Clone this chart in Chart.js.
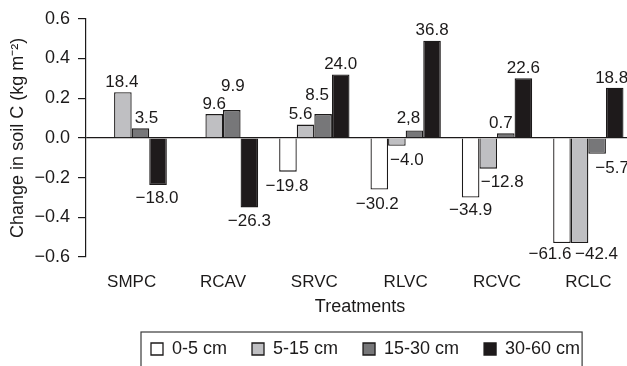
<!DOCTYPE html>
<html>
<head>
<meta charset="utf-8">
<script src="https://cdn.jsdelivr.net/npm/chart.js@4/dist/chart.umd.min.js"></script>
<style>
  html, body { margin: 0; padding: 0; background: #fff; overflow: hidden; }
</style>
</head>
<body>
<canvas id="soilChart" width="634" height="366"></canvas>
<script>
const treatments = ["SMPC", "RCAV", "SRVC", "RLVC", "RCVC", "RCLC"];
const depths = ["0-5 cm", "5-15 cm", "15-30 cm", "30-60 cm"];
const yTicks = [-0.6, -0.4, -0.2, 0, 0.2, 0.4, 0.6];

// change in soil C (kg m-2)
const depth0to5 = [null, null, -0.17, -0.26, -0.30, -0.53];
const depth5to15 = [0.23, 0.12, 0.067, -0.04, -0.155, -0.53];
const depth15to30 = [0.048, 0.14, 0.12, 0.037, 0.023, -0.08];
const depth30to60 = [-0.237, -0.35, 0.32, 0.49, 0.30, 0.253];

// % change printed beside each bar
const pct0to5 = ["", "", "\u221219.8", "\u221230.2", "\u221234.9", "\u221261.6"];
const pct5to15 = ["18.4", "9.6", "5.6", "\u22124.0", "\u221212.8", "\u221242.4"];
const pct15to30 = ["3.5", "9.9", "8.5", "2,8", "0.7", "\u22125.7"];
const pct30to60 = ["\u221218.0", "\u221226.3", "24.0", "36.8", "22.6", "18.8"];

// nudges so the labels sit where the figure puts them
const dx0 = [0, 0, -1, -2, 0, -12], dy0 = [0, 0, 5, 5, 3, 1];
const dx1 = [-1, 0, -5, 10, 14, 17], dy1 = [0, 0, 0, 4, 4, 1];
const dx2 = [6, 1, -6, -6, -5, 15], dy2 = [0, -14, -9, -2, 0, 5];
const dx3 = [-1, 0, 0, 0, 0, -3], dy3 = [3, 4, 0, 0, 0, 1];

const FONT = "'Liberation Sans', Arial, sans-serif";
const INK = "#1c1a1a";
Chart.defaults.font.family = FONT;
Chart.defaults.color = INK;

function series(label, data, fill, pct, dx, dy) {
  return {
    label: label,
    data: data,
    backgroundColor: fill,
    borderColor: INK,
    borderWidth: 1.3,
    pctLabels: pct,
    labelDx: dx,
    labelDy: dy,
  };
}

const barLabels = {
  id: "barLabels",
  afterDatasetsDraw(chart) {
    const ctx = chart.ctx;
    ctx.save();
    ctx.font = "17px " + FONT;
    ctx.fillStyle = INK;
    ctx.textAlign = "center";
    ctx.textBaseline = "middle";
    chart.data.datasets.forEach((ds, i) => {
      chart.getDatasetMeta(i).data.forEach((bar, j) => {
        const text = ds.pctLabels[j];
        if (!text || ds.data[j] === null) return;
        const off = ds.data[j] >= 0 ? -10 : 10;
        ctx.fillText(text, bar.x + ds.labelDx[j], bar.y + off + ds.labelDy[j]);
      });
    });
    ctx.restore();
  },
};

// move the legend under the right part of the plot and box it in
const legendFrame = {
  id: "legendFrame",
  afterUpdate(chart) {
    const lg = chart.legend;
    const shift = 151 - lg.legendHitBoxes[0].left;
    lg.left += shift;
    lg.right += shift;
    lg.legendHitBoxes.forEach((h) => (h.left += shift));
  },
  afterDraw(chart) {
    const boxes = chart.legend.legendHitBoxes;
    const first = boxes[0];
    const last = boxes[boxes.length - 1];
    const ctx = chart.ctx;
    ctx.save();
    ctx.strokeStyle = "#3a3a3a";
    ctx.lineWidth = 1.2;
    const x0 = first.left - 10;
    const x1 = last.left + last.width + 2;
    ctx.strokeRect(x0, first.top - 8, x1 - x0, 60);
    ctx.restore();
  },
};

new Chart("soilChart", {
  type: "bar",
  data: {
    labels: treatments,
    datasets: [
      series(depths[0], depth0to5, "#ffffff", pct0to5, dx0, dy0),
      series(depths[1], depth5to15, "#bfbfc2", pct5to15, dx1, dy1),
      series(depths[2], depth15to30, "#777779", pct15to30, dx2, dy2),
      series(depths[3], depth30to60, "#1e1a1b", pct30to60, dx3, dy3),
    ],
  },
  options: {
    responsive: false,
    animation: false,
    layout: { padding: { top: 16, left: 0, right: 0, bottom: -2 } },
    datasets: { bar: { categoryPercentage: 0.77, barPercentage: 1.0 } },
    plugins: {
      tooltip: { enabled: false },
      legend: {
        position: "bottom",
        labels: {
          boxWidth: 12,
          boxHeight: 12,
          padding: 25,
          font: { size: 18 },
          color: INK,
        },
      },
    },
    scales: {
      x: {
        grid: { display: false, drawTicks: false },
        border: { display: false },
        ticks: { font: { size: 17 }, padding: 15, color: INK },
        title: {
          display: true,
          text: "Treatments",
          font: { size: 18 },
          padding: { top: 0, bottom: -3 },
          color: INK,
        },
        afterFit(scale) {
          scale.height = 58;
        },
      },
      y: {
        min: -0.6,
        max: 0.6,
        afterBuildTicks(scale) {
          scale.ticks = yTicks.map((v) => ({ value: v }));
        },
        grid: {
          color: (c) => (c.tick && Math.abs(c.tick.value) < 1e-9 ? INK : "rgba(0,0,0,0)"),
          tickColor: INK,
          tickLength: 8,
          lineWidth: 1.2,
        },
        border: { display: true, color: INK, width: 1.2 },
        ticks: {
          font: { size: 18 },
          padding: 8,
          color: INK,
          callback: (v) => (Math.abs(v) < 1e-9 ? "0.0" : v.toFixed(1).replace("-", "\u2212")),
        },
        title: {
          display: true,
          text: "Change in soil C (kg m\u207B\u00B2)",
          font: { size: 18 },
          padding: { top: 7, bottom: 0 },
          color: INK,
        },
        afterFit(scale) {
          scale.width = 86;
        },
      },
    },
  },
  plugins: [barLabels, legendFrame],
});
</script>
</body>
</html>
